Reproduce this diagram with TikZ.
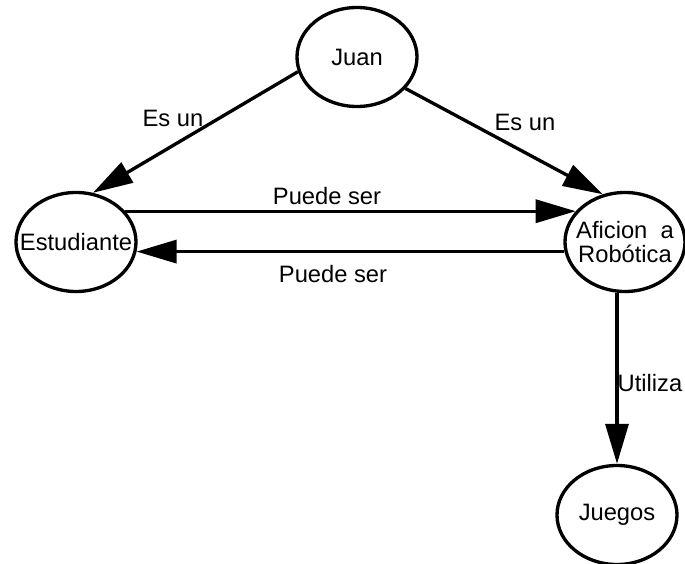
\documentclass[tikz,border=0pt]{standalone}
\usepackage{fontspec}
\setmainfont{Liberation Sans}
\usetikzlibrary{arrows.meta,shapes.geometric}

\begin{document}
\begin{tikzpicture}[
                    concepto/.style={draw, ellipse, line width=1.9pt, minimum width=2.4cm, minimum height=1.98cm, inner sep=0pt, align=center},
                    relacion/.style={line width=1.9pt, -{Triangle[length=0.8cm,width=0.46cm]}},
                    every node/.style={font=\fontsize{13.5}{13.6}\selectfont}
                  ]
                    \useasboundingbox (0,0) rectangle (13.7,11.28);

                    \node[concepto] (juan) at (7.14,10.14) {\makebox[0pt]{Juan}};
                    \node[concepto] (estudiante) at (1.52,6.44) {\makebox[0pt]{Estudiante}};
                    \node[concepto] (aficion) at (12.5,6.44) {\makebox[0pt]{Aficion\ \ a}\\\makebox[0pt]{Robótica}};
                    \node[concepto] (juegos) at (12.34,0.98) {\makebox[0pt]{Juegos}};

                    \draw[relacion] (juan.194) -- (estudiante.71);
                    \draw[relacion] (juan.327) -- (aficion.115);
                    \draw[relacion] (estudiante.32) -- (aficion.148);
                    \draw[relacion] (aficion.189) -- (estudiante.-9);
                    \draw[relacion] (juegos.north |- aficion.south) -- (juegos.north);

                    \node (esun1) at (3.46,8.92) {Es un};
                    \node (esun2) at (10.5,8.84) {Es un};
                    \node (puede1) at (6.54,7.36) {Puede ser};
                    \node (puede2) at (6.66,5.80) {Puede ser};
                    \node (utiliza) at (13.0,3.62) {Utiliza};

                  \end{tikzpicture}
\end{document}
